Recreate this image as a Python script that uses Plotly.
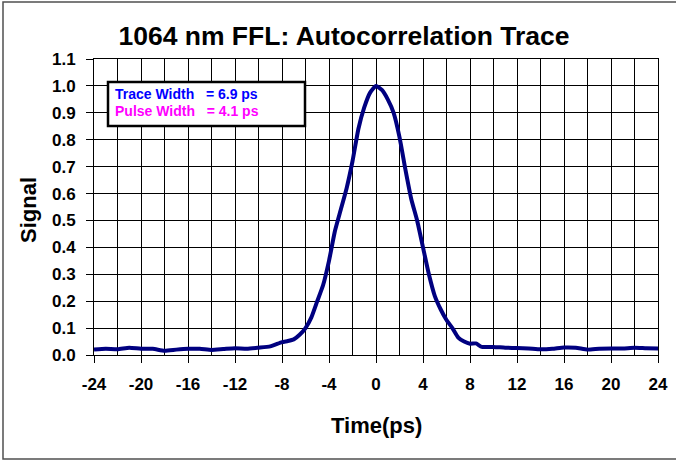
import plotly.graph_objects as go

# Data
time_ps = [-24, -23, -22, -21, -20, -19, -18, -17, -16, -15, -14, -13, -12, -11, -10, -9,
           -8, -7.5, -7, -6.5, -6, -5.5, -5, -4.5, -4, -3.5, -3, -2.5, -2, -1.5, -1, -0.5,
           0, 0.5, 1, 1.5, 2, 2.5, 3, 3.5, 4, 4.5, 5, 5.5, 6, 6.5, 7, 7.5, 8, 8.5,
           9, 10, 11, 12, 13, 14, 15, 16, 17, 18, 19, 20, 21, 22, 23, 24]
signal = [0.020, 0.023, 0.021, 0.027, 0.023, 0.023, 0.016, 0.020, 0.023, 0.023, 0.019, 0.022,
          0.025, 0.023, 0.027, 0.032,
          0.048, 0.052, 0.058, 0.075, 0.10, 0.14, 0.20, 0.26, 0.35, 0.46, 0.54, 0.62, 0.72,
          0.84, 0.92, 0.975,
          1.0, 0.985, 0.95, 0.90, 0.81, 0.69, 0.58, 0.50, 0.40, 0.30, 0.22, 0.17, 0.13, 0.10,
          0.065, 0.05, 0.042, 0.043,
          0.030, 0.030, 0.027, 0.026, 0.024, 0.021, 0.023, 0.028, 0.027, 0.020, 0.023, 0.024,
          0.024, 0.027, 0.025, 0.024]

x_ticks = list(range(-24, 25, 4))
y_ticks = [round(i * 0.1, 1) for i in range(12)]

title_text = "1064 nm FFL: Autocorrelation Trace"
x_title = "Time(ps)"
y_title = "Signal"
legend_lines = [("Trace Width&nbsp;&nbsp;&nbsp;= 6.9 ps", "#0000FF"),
                ("Pulse Width&nbsp;&nbsp;&nbsp;= 4.1 ps", "#FF00FF")]

FONT = "Liberation Sans, Arial, sans-serif"

fig = go.Figure()
fig.add_trace(go.Scatter(x=time_ps, y=signal, mode="lines",
                         line=dict(color="#000080", width=4, shape="spline", smoothing=0.5),
                         showlegend=False, hoverinfo="skip"))

W, H = 676, 461
L, R, T, B = 94, 18, 59, 106
pw, ph = W - L - R, H - T - B

def px(xpix):
    return (xpix - L) / pw

def py(ypix):
    return (H - B - ypix) / ph

fig.update_layout(
    width=W, height=H,
    margin=dict(l=L, r=R, t=T, b=B, autoexpand=False),
    paper_bgcolor="white", plot_bgcolor="white",
    title=dict(text=f"<b>{title_text}</b>", x=344 / W, xref="container", xanchor="center",
               y=1 - 36 / H, yref="container", yanchor="middle",
               font=dict(family=FONT, size=26.5, color="black")),
    font=dict(family=FONT, color="black"),
)

fig.update_xaxes(range=[-24, 24], tickvals=x_ticks, ticktext=[str(v) for v in x_ticks],
                 automargin=False,
                 showgrid=True, gridcolor="black", gridwidth=1,
                 minor=dict(dtick=2, showgrid=True, gridcolor="black", gridwidth=1, ticks=""),
                 showline=True, linecolor="black", linewidth=1, mirror=True,
                 ticks="outside", ticklen=7, tickcolor="black", tickwidth=1,
                 ticklabelstandoff=7,
                 tickfont=dict(family=FONT, size=17, color="black", weight="bold"),
                 zeroline=False)
fig.update_yaxes(range=[0, 1.1], tickvals=y_ticks, ticktext=[f"{v:.1f}" for v in y_ticks],
                 automargin=False,
                 showgrid=True, gridcolor="black", gridwidth=1,
                 showline=True, linecolor="black", linewidth=1, mirror=True,
                 ticks="outside", ticklen=7, tickcolor="black", tickwidth=1,
                 ticklabelstandoff=7,
                 tickfont=dict(family=FONT, size=17, color="black", weight="bold"),
                 zeroline=False)

# axis titles
fig.add_annotation(text=f"<b>{y_title}</b>", xref="paper", yref="paper",
                   x=px(28), y=py(210), textangle=-90, showarrow=False,
                   xanchor="center", yanchor="middle",
                   font=dict(family=FONT, size=22, color="black"))
fig.add_annotation(text=f"<b>{x_title}</b>", xref="paper", yref="paper",
                   x=px(376), y=py(425), showarrow=False,
                   xanchor="center", yanchor="middle",
                   font=dict(family=FONT, size=22, color="black"))

# legend-style text box
fig.add_shape(type="rect", xref="paper", yref="paper",
              x0=px(108), x1=px(305), y0=py(126), y1=py(82),
              line=dict(color="black", width=2.5), fillcolor="white", layer="above")
for (txt, col), ypix in zip(legend_lines, [94, 111]):
    fig.add_annotation(text=f"<b>{txt}</b>", xref="paper", yref="paper",
                       x=px(113), y=py(ypix), showarrow=False,
                       xanchor="left", yanchor="middle",
                       font=dict(family=FONT, size=14, color=col))

# outer border of the chart (right edge lies just outside the picture, as in the reference)
fig.add_shape(type="rect", xref="paper", yref="paper",
              x0=px(3), x1=px(680), y0=py(459), y1=py(2),
              line=dict(color="#505050", width=1.5), fillcolor="rgba(0,0,0,0)", layer="above")

fig.write_html("out.html", config={"displayModeBar": False},
               post_script="document.body.style.margin='0';document.body.style.overflow='hidden';")
